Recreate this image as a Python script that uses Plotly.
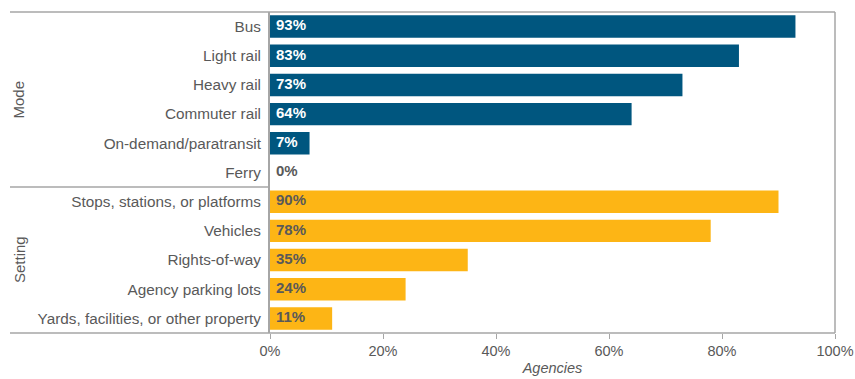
import plotly.graph_objects as go

categories = ["Bus", "Light rail", "Heavy rail", "Commuter rail", "On-demand/paratransit", "Ferry",
              "Stops, stations, or platforms", "Vehicles", "Rights-of-way", "Agency parking lots",
              "Yards, facilities, or other property"]
values = [93, 83, 73, 64, 7, 0, 90, 78, 35, 24, 11]
groups = ["Mode"] * 6 + ["Setting"] * 5
group_colors = {"Mode": "#00567F", "Setting": "#FDB515"}
label_colors = {"Mode": "#FFFFFF", "Setting": "#595959"}
tick_vals = [0, 20, 40, 60, 80, 100]
tick_text = ["0%", "20%", "40%", "60%", "80%", "100%"]

FONT = "Liberation Sans, Arial, sans-serif"
GRAY = "#595959"
LINE = "#A6A6A6"

L, R, T, B = 270, 20, 12, 46
W, H = 855, 379
PW = W - L - R
PH = H - T - B

bar_colors = [group_colors[g] for g in groups]
txt_colors = [label_colors[g] if v > 0 else GRAY for g, v in zip(groups, values)]

fig = go.Figure()
fig.add_trace(go.Bar(
    x=values, y=categories, orientation="h",
    marker=dict(color=bar_colors, line=dict(width=0)),
    hoverinfo="skip", showlegend=False,
))
fig.add_trace(go.Scatter(
    x=[6 / PW * 100] * len(values), y=categories, mode="text",
    text=[f"<b>{v}%</b>" for v in values],
    textposition="middle right",
    textfont=dict(family=FONT, size=15, color=txt_colors),
    hoverinfo="skip", showlegend=False, cliponaxis=False,
))

fig.update_layout(
    template="none",
    width=W, height=H,
    margin=dict(l=L, r=R, t=T, b=B, autoexpand=False),
    paper_bgcolor="white", plot_bgcolor="white",
    bargap=0.23,
    font=dict(family=FONT, size=14, color=GRAY),
    xaxis=dict(
        range=[0, 100], tickvals=tick_vals, ticktext=tick_text,
        showgrid=False, zeroline=False, showline=False,
        ticks="outside", ticklen=5, tickcolor=LINE, tickwidth=1,
        tickfont=dict(family=FONT, size=14.5, color=GRAY),
        title=dict(text="<i>Agencies</i>", font=dict(family=FONT, size=14.5, color=GRAY), standoff=4),
        automargin=False, fixedrange=True,
    ),
    yaxis=dict(
        categoryorder="array", categoryarray=categories,
        range=[10.5, -0.5], showgrid=False, zeroline=False,
        showline=True, linecolor=LINE, linewidth=1.5,
        ticks="", ticksuffix=" ",
        tickfont=dict(family=FONT, size=15.3, color=GRAY),
        automargin=False, fixedrange=True,
    ),
)

x_left = (10 - L) / PW
shapes = [
    dict(type="line", xref="paper", yref="paper", x0=x_left, x1=1, y0=1, y1=1, line=dict(color=LINE, width=1.5)),
    dict(type="line", xref="paper", yref="paper", x0=x_left, x1=1, y0=0, y1=0, line=dict(color=LINE, width=1.5)),
    dict(type="line", xref="paper", yref="paper", x0=1, x1=1, y0=0, y1=1, line=dict(color=LINE, width=1.5)),
    dict(type="line", xref="paper", yref="y", x0=x_left, x1=0, y0=5.5, y1=5.5, line=dict(color=LINE, width=1.5)),
]
fig.update_layout(shapes=shapes)

gx = (19 - L) / PW
fig.add_annotation(text="Mode", xref="paper", yref="y", x=gx, y=2.5, xanchor="center", yanchor="middle",
                   textangle=-90, showarrow=False, font=dict(family=FONT, size=15, color=GRAY))
fig.add_annotation(text="Setting", xref="paper", yref="y", x=gx, y=8, xanchor="center", yanchor="middle",
                   textangle=-90, showarrow=False, font=dict(family=FONT, size=15, color=GRAY))

fig.write_html("out.html")
